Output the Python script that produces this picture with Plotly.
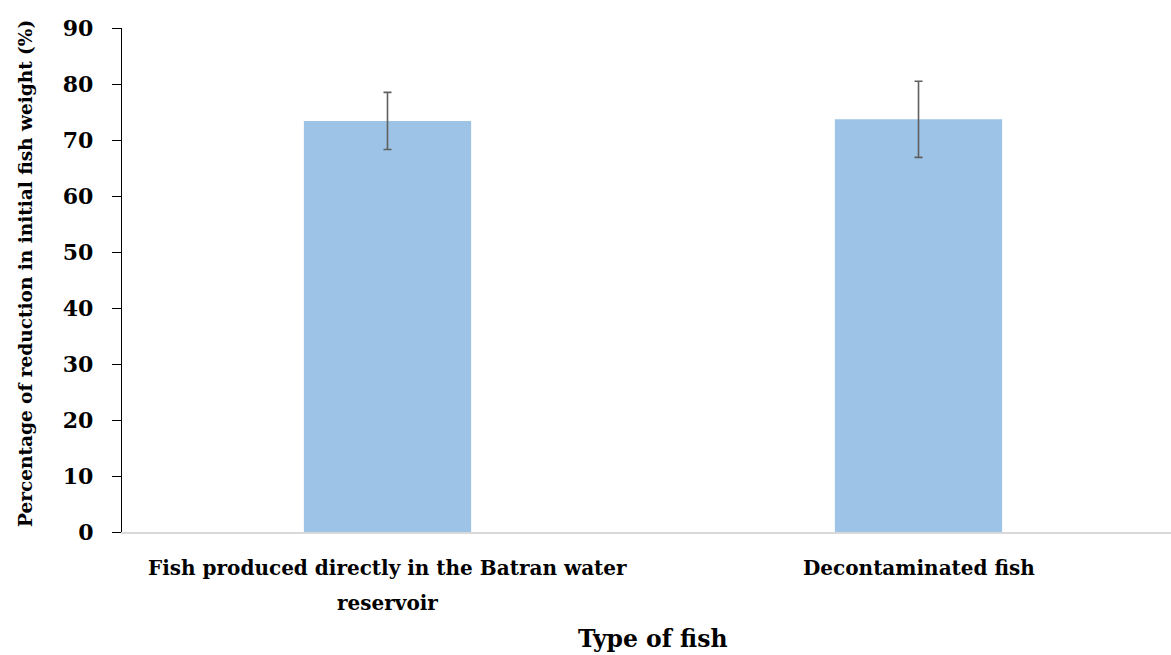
import plotly.graph_objects as go

categories = ["Fish produced directly in the Batran water<br>reservoir", "Decontaminated fish"]
values = [73.4, 73.7]
errors = [5.1, 6.8]
y_ticks = [0, 10, 20, 30, 40, 50, 60, 70, 80, 90]
x_title = "Type of fish"
y_title = "Percentage of reduction in initial fish weight (%)"

font_family = "DejaVu Serif"

fig = go.Figure()
fig.add_trace(go.Bar(
    x=list(range(len(categories))),
    y=values,
    width=0.315,
    marker=dict(color="#9dc3e6", line=dict(width=0)),
    error_y=dict(type="data", array=errors, visible=True, color="#5f5f5f", thickness=1.6, width=4),
))

annotations = []
for i, label in enumerate(categories):
    for j, line in enumerate(label.split("<br>")):
        annotations.append(dict(
            x=i, xref="x", y=0, yref="paper", yanchor="middle", xanchor="center",
            yshift=-36 - 35 * j, showarrow=False, text="<b>" + line + "</b>",
            font=dict(family=font_family, size=20, color="black"),
        ))
annotations.append(dict(
    x=(len(categories) - 1) / 2, xref="x", y=0, yref="paper", yanchor="middle", xanchor="center",
    yshift=-107, showarrow=False, text="<b>" + x_title + "</b>",
    font=dict(family=font_family, size=23.5, color="black"),
))
annotations.append(dict(
    x=0, xref="paper", y=0.5, yref="paper", yanchor="middle", xanchor="center",
    xshift=-97, yshift=6, textangle=-90, showarrow=False, text="<b>" + y_title + "</b>",
    font=dict(family=font_family, size=18.5, color="black"),
))

fig.update_layout(
    width=1171, height=655,
    margin=dict(l=122, r=0, t=28, b=123),
    paper_bgcolor="white", plot_bgcolor="white",
    showlegend=False,
    font=dict(family=font_family, color="black"),
    annotations=annotations,
)
fig.update_xaxes(
    range=[-0.5, 1.4755],
    showticklabels=False,
    showline=True, linecolor="#d9d9d9", linewidth=1.5,
    ticks="", showgrid=False, zeroline=False, automargin=False,
)
fig.update_yaxes(
    range=[0, 90],
    tickmode="array", tickvals=y_ticks,
    tickfont=dict(family=font_family, size=22, color="black", weight="bold"),
    showline=True, linecolor="black", linewidth=1.3,
    ticks="outside", ticklen=9, tickcolor="black", tickwidth=1.3,
    ticklabelstandoff=14,
    showgrid=False, zeroline=False, automargin=False,
)

fig.write_html(
    "out.html",
    config={"displayModeBar": False},
    post_script="document.body.style.margin='0';document.body.style.overflow='hidden';",
)
